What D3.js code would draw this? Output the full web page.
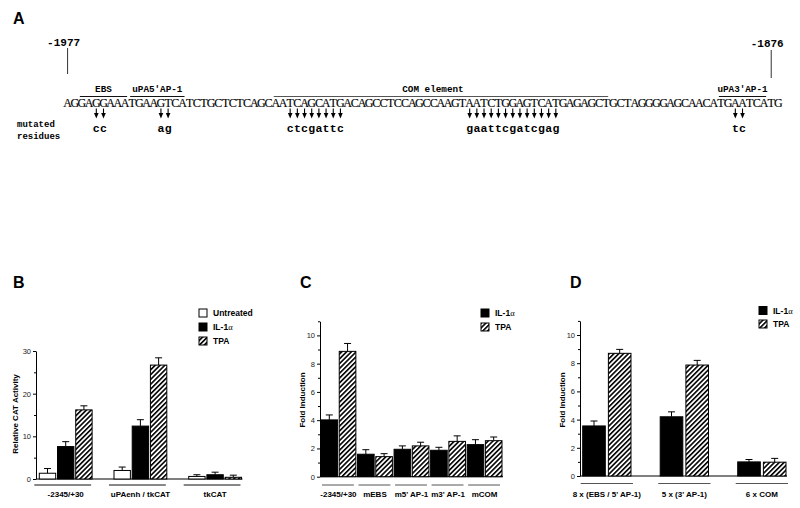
<!DOCTYPE html>
<html><head><meta charset="utf-8">
<script src="https://cdn.jsdelivr.net/npm/d3@7"></script>
<style>body{margin:0;background:#fff}svg{display:block;background:#fff}</style>
</head><body><svg id="c" width="800" height="508"></svg>
<script>
// ---------- Panel A data ----------
const sequence = "AGGAGGAAATGAAGTCATCTGCTCTCAGCAATCAGCATGACAGCCTCCAGCCAAGTAATCTGGAGTCATGAGAGCTGCTAGGGGAGCAACATGAATCATG";
const positionLabels = ["-1977", "-1876"];
const positionIndex = [0, 98];
const elementNames = ["EBS", "uPA5'AP-1", "COM element", "uPA3'AP-1"];
const elementStart = [2, 9, 29, 91];
const elementEnd = [8, 16, 75, 97];
const mutationStart = [4, 13, 31, 56, 93];
const mutationBases = ["cc", "ag", "ctcgattc", "gaattcgatcgag", "tc"];

// ---------- Panel B data ----------
const bCategories = ["-2345/+30", "uPAenh / tkCAT", "tkCAT"];
const bSeries = ["Untreated", "IL-1α", "TPA"];
const bUntreated = [1.35, 2.0, 0.6];
const bUntreatedErr = [2.45, 2.8, 1.0];
const bIL1 = [7.6, 12.4, 1.0];
const bIL1Err = [8.75, 13.9, 1.6];
const bTPA = [16.2, 26.7, 0.4];
const bTPAErr = [17.15, 28.4, 0.9];
const bTicks = [0, 10, 20, 30];
const bMinorTicks = [5, 15, 25];

// ---------- Panel C data ----------
const cCategories = ["-2345/+30", "mEBS", "m5' AP-1", "m3' AP-1", "mCOM"];
const cSeries = ["IL-1α", "TPA"];
const cIL1 = [4.02, 1.59, 1.94, 1.87, 2.27];
const cIL1Err = [4.37, 1.91, 2.18, 2.08, 2.62];
const cTPA = [8.87, 1.42, 2.18, 2.5, 2.55];
const cTPAErr = [9.43, 1.63, 2.44, 2.89, 2.81];
const cTicks = [0, 2, 4, 6, 8, 10];
const cMinorTicks = [1, 3, 5, 7, 9, 11];

// ---------- Panel D data ----------
const dCategories = ["8 x (EBS / 5' AP-1)", "5 x (3' AP-1)", "6 x COM"];
const dSeries = ["IL-1α", "TPA"];
const dIL1 = [3.55, 4.2, 1.0];
const dIL1Err = [3.9, 4.55, 1.17];
const dTPA = [8.7, 7.87, 0.98];
const dTPAErr = [8.98, 8.2, 1.25];
const dTicks = [0, 2, 4, 6, 8, 10];
const dMinorTicks = [1, 3, 5, 7, 9, 11];

const SANS = "'Liberation Sans', Arial, sans-serif";
const MONO = "'Liberation Mono', 'Courier New', monospace";
const SERIF = "'Liberation Serif', 'Times New Roman', serif";

const svg = d3.select("#c");
const defs = svg.append("defs");
const pat = defs.append("pattern").attr("id", "hatch")
  .attr("patternUnits", "userSpaceOnUse").attr("width", 3.4).attr("height", 3.4)
  .attr("patternTransform", "rotate(45)");
pat.append("rect").attr("width", 3.4).attr("height", 3.4).attr("fill", "#fff");
pat.append("rect").attr("width", 1.6).attr("height", 3.4).attr("fill", "#000");

const fillFor = {"Untreated": "#fff", "IL-1α": "#000", "TPA": "url(#hatch)"};

function letter(txt, x, y) {
  svg.append("text").attr("x", x).attr("y", y).text(txt)
    .attr("font-family", SANS).attr("font-weight", "bold").attr("font-size", 16);
}

// ================= Panel A =================
letter("A", 13, 24);
const xs = d3.scaleBand().domain(d3.range(sequence.length)).range([64, 782]);
const cx = i => xs(i) + xs.bandwidth() / 2;
const gA = svg.append("g");
gA.selectAll("text.nt").data(sequence.split("")).join("text")
  .attr("class", "nt").attr("x", (d, i) => cx(i)).attr("y", 107)
  .attr("text-anchor", "middle").attr("font-family", SERIF).attr("font-size", 12)
  .attr("stroke", "#000").attr("stroke-width", 0.15)
  .text(d => d);

// position markers
positionLabels.forEach((lab, k) => {
  const x = cx(positionIndex[k]);
  gA.append("line").attr("x1", x).attr("x2", x).attr("y1", 48 + k * 2).attr("y2", 74 + k * 4)
    .attr("stroke", "#333").attr("stroke-width", 1);
  gA.append("text").attr("x", x - 4).attr("y", 45.5 + k).attr("text-anchor", "middle")
    .attr("font-family", MONO).attr("font-weight", "bold").attr("font-size", 11).text(lab);
});

// element overlines
elementNames.forEach((name, k) => {
  const x1 = xs(elementStart[k]) + 1.5, x2 = xs(elementEnd[k]) + xs.bandwidth() - 1.5;
  gA.append("line").attr("x1", x1).attr("x2", x2).attr("y1", 96.5).attr("y2", 96.5)
    .attr("stroke", name === "COM element" ? "#555" : "#111").attr("stroke-width", 1);
  gA.append("text").attr("x", (x1 + x2) / 2 - (name === "COM element" ? 8 : 0)).attr("y", 92)
    .attr("text-anchor", "middle").attr("font-family", MONO).attr("font-weight", "bold")
    .attr("font-size", 9.3).text(name);
});

// mutation arrows and replacement bases
mutationBases.forEach((bases, k) => {
  bases.split("").forEach((b, j) => {
    const x = cx(mutationStart[k] + j);
    gA.append("line").attr("x1", x).attr("x2", x).attr("y1", 108.5).attr("y2", 114)
      .attr("stroke", "#000").attr("stroke-width", 1.1);
    gA.append("path").attr("d", `M${x - 2.3},113 L${x + 2.3},113 L${x},118.5 Z`).attr("fill", "#000");
    gA.append("text").attr("x", x).attr("y", 132).attr("text-anchor", "middle")
      .attr("font-family", MONO).attr("font-weight", "bold").attr("font-size", 11.5).text(b);
  });
});
gA.append("text").attr("x", 17).attr("y", 127).attr("font-family", MONO).attr("font-weight", "bold")
  .attr("font-size", 9).text("mutated");
gA.append("text").attr("x", 17).attr("y", 139).attr("font-family", MONO).attr("font-weight", "bold")
  .attr("font-size", 9).text("residues");

// ================= Bar panels =================
function drawPanel(p) {
  const g = svg.append("g");
  const y = d3.scaleLinear().domain([0, p.yMax]).range([p.y0, p.yTop]);
  const x0 = d3.scaleBand().domain(p.categories).range(p.xRange).paddingInner(p.groupPad);
  const x1 = d3.scaleBand().domain(p.series).range([0, x0.bandwidth()]).paddingInner(p.barPad);

  // baseline
  g.append("line").attr("x1", p.axisX).attr("x2", p.xRange[1] + 1)
    .attr("y1", y(0)).attr("y2", y(0)).attr("stroke", "#000").attr("stroke-width", 1);

  // axis
  const ax = g.append("g").attr("transform", `translate(${p.axisX},0)`)
    .call(d3.axisLeft(y).tickValues(p.ticks).tickSize(3).tickSizeOuter(0).tickPadding(2)
      .tickFormat(d3.format("d")));
  ax.selectAll("text").attr("font-family", SANS).attr("font-size", 7.5).attr("fill", "#222");
  ax.select(".domain").attr("stroke", "#000");
  const mx = g.append("g").attr("transform", `translate(${p.axisX},0)`)
    .call(d3.axisLeft(y).tickValues(p.minor).tickSize(2).tickFormat(""));
  mx.select(".domain").remove();

  // bars + error bars
  p.series.forEach((s, si) => {
    p.categories.forEach((c, ci) => {
      const v = p.values[si][ci], e = p.errs[si][ci];
      const bx = x0(c) + x1(s), bw = x1.bandwidth();
      g.append("rect").attr("x", bx).attr("y", y(v)).attr("width", bw)
        .attr("height", y(0) - y(v)).attr("fill", fillFor[s])
        .attr("stroke", "#000").attr("stroke-width", 1);
      const mxp = bx + bw / 2;
      g.append("line").attr("x1", mxp).attr("x2", mxp).attr("y1", y(v)).attr("y2", y(e))
        .attr("stroke", "#000").attr("stroke-width", 1);
      g.append("line").attr("x1", mxp - 3.5).attr("x2", mxp + 3.5).attr("y1", y(e)).attr("y2", y(e))
        .attr("stroke", "#000").attr("stroke-width", 1);
    });
  });

  // group underlines and labels
  p.categories.forEach(c => {
    g.append("line").attr("x1", x0(c) + p.ulInset[0]).attr("x2", x0(c) + x0.bandwidth() + p.ulInset[1])
      .attr("y1", p.ulY).attr("y2", p.ulY).attr("stroke", p.ulColor).attr("stroke-width", 1);
    g.append("text").attr("x", x0(c) + x0.bandwidth() / 2).attr("y", 497).attr("text-anchor", "middle")
      .attr("font-family", SANS).attr("font-weight", "bold").attr("font-size", 8).text(c);
  });

  // y title
  g.append("text").attr("transform", `translate(${p.titleX},${p.titleY}) rotate(-90)`)
    .attr("text-anchor", "middle").attr("font-family", SANS).attr("font-weight", "bold")
    .attr("font-size", 8).text(p.title);

  // legend
  p.series.forEach((s, si) => {
    const ly = p.legendY + si * p.legendStep;
    g.append("rect").attr("x", p.legendX).attr("y", ly).attr("width", 8).attr("height", 8)
      .attr("fill", fillFor[s]).attr("stroke", "#000").attr("stroke-width", 1);
    const t = g.append("text").attr("x", p.legendX + 14).attr("y", ly + 7)
      .attr("font-family", SANS).attr("font-weight", "bold").attr("font-size", 8.5);
    if (s.endsWith("α")) {
      t.append("tspan").text(s.slice(0, -1));
      t.append("tspan").attr("font-family", SERIF).attr("font-weight", "normal").attr("font-size", 8.5).text("α");
    } else t.text(s);
  });

  letter(p.letter, p.letterX, 288);
}

drawPanel({
  letter: "B", letterX: 13,
  categories: bCategories, series: bSeries,
  values: [bUntreated, bIL1, bTPA], errs: [bUntreatedErr, bIL1Err, bTPAErr],
  yMax: 30, y0: 479, yTop: 351, ticks: bTicks, minor: bMinorTicks, axisX: 36,
  xRange: [39.3, 241.5], groupPad: 0.293, barPad: 0.1,
  ulY: 485, ulInset: [-5, -1], ulColor: "#111",
  title: "Relative CAT Activity", titleX: 18, titleY: 414,
  legendX: 199, legendY: 309, legendStep: 14
});

drawPanel({
  letter: "C", letterX: 300,
  categories: cCategories, series: cSeries,
  values: [cIL1, cTPA], errs: [cIL1Err, cTPAErr],
  yMax: 11, y0: 476.7, yTop: 476.7 - 11 * 14.13, ticks: cTicks, minor: cMinorTicks, axisX: 320,
  xRange: [321, 502], groupPad: 0.046, barPad: 0.09,
  ulY: 485, ulInset: [1, -2], ulColor: "#555",
  title: "Fold Induction", titleX: 305, titleY: 400,
  legendX: 481, legendY: 309, legendStep: 14
});

drawPanel({
  letter: "D", letterX: 570,
  categories: dCategories, series: dSeries,
  values: [dIL1, dTPA], errs: [dIL1Err, dTPAErr],
  yMax: 11, y0: 476, yTop: 476 - 11 * 14.1, ticks: dTicks, minor: dMinorTicks, axisX: 580,
  xRange: [582.7, 786], groupPad: 0.377, barPad: 0.12,
  ulY: 483.5, ulInset: [-2, 2], ulColor: "#555",
  title: "Fold Induction", titleX: 565, titleY: 400,
  legendX: 759, legendY: 306.5, legendStep: 13.5
});
</script></body></html>
